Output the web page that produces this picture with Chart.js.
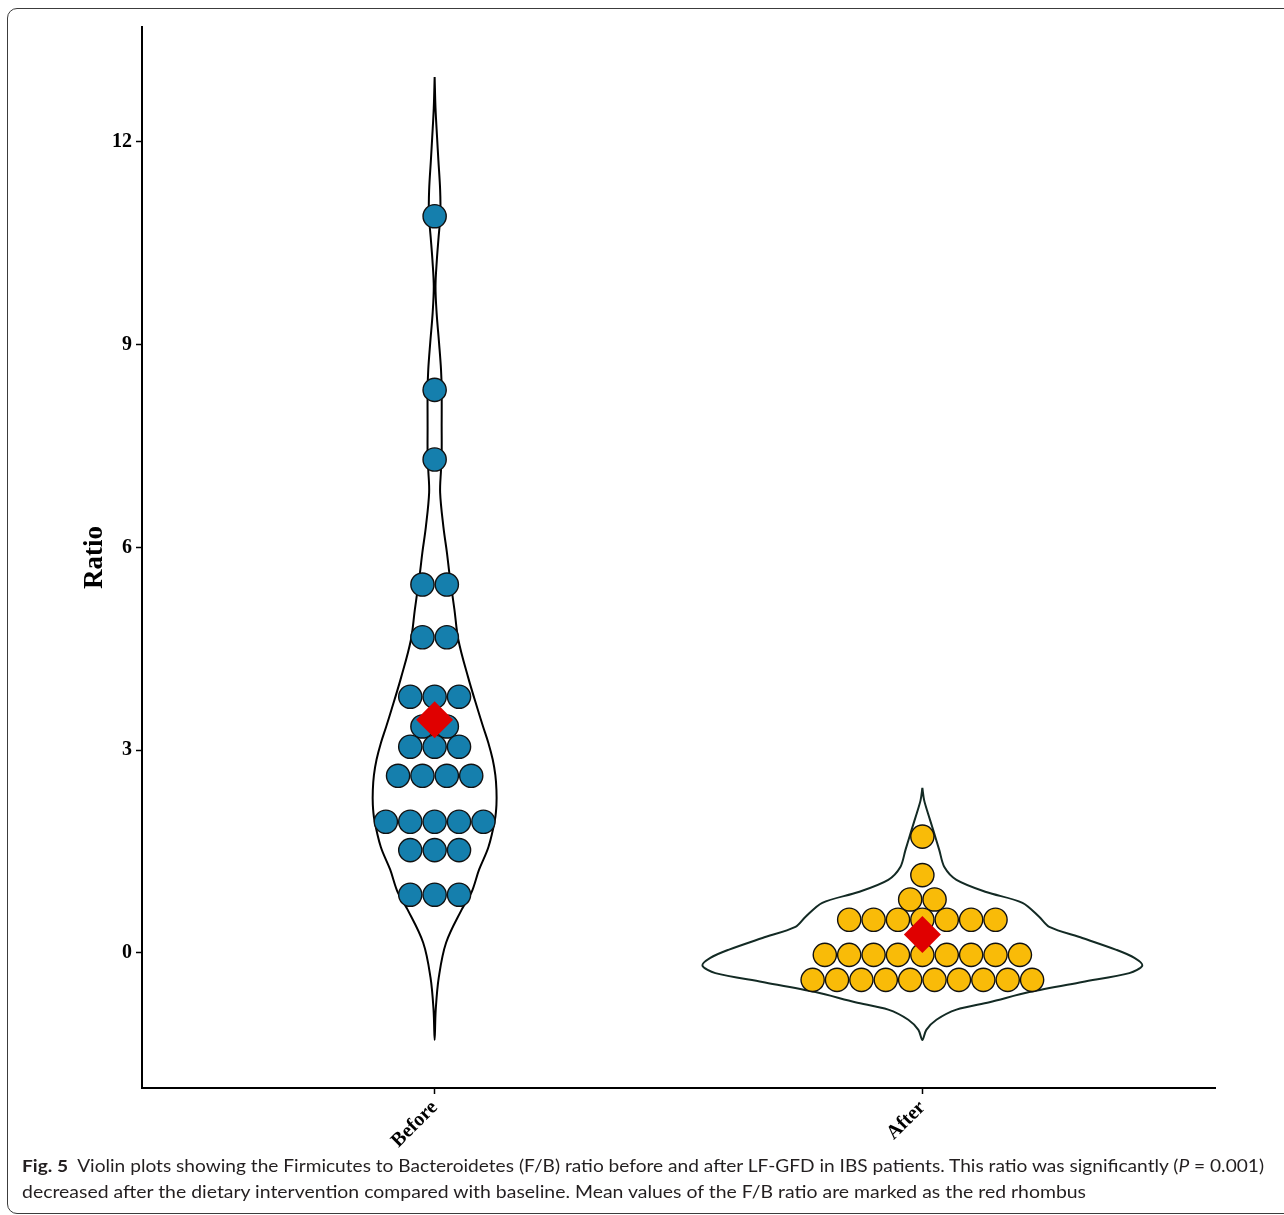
<!DOCTYPE html>
<html>
<head>
<meta charset="utf-8">
<script src="https://cdn.jsdelivr.net/npm/chart.js@4.4.1/dist/chart.umd.min.js"></script>
<style>
  html, body { margin: 0; padding: 0; background: #fff; width: 1284px; height: 1215px; overflow: hidden; }
  #frame { position: absolute; left: 7px; top: 8px; width: 1320px; height: 1206px; border: 1.5px solid #3c3c3c; border-radius: 10px; box-sizing: border-box; }
  #wrap { position: absolute; left: 0; top: 0; width: 1284px; height: 1160px; }
  .cap { position: absolute; left: 22px; font-family: Lato, "Open Sans", sans-serif; color: #231f20; white-space: nowrap; line-height: 1; font-size: 17.5px; transform-origin: 0 0; }
  .cap b { font-weight: 700; }
</style>
</head>
<body>
<div id="frame"></div>
<div id="wrap"><canvas id="c" width="1284" height="1160"></canvas></div>
<div class="cap" id="cap1"><b>Fig. 5</b>&nbsp; Violin plots showing the Firmicutes to Bacteroidetes (F/B) ratio before and after LF-GFD in IBS patients. This ratio was significantly (<i>P</i> = 0.001)</div>
<div class="cap" id="cap2">decreased after the dietary intervention compared with baseline. Mean values of the F/B ratio are marked as the red rhombus</div>
<script>
// ---- data ----
const categories = ['Before', 'After'];
const yTicks = [0, 3, 6, 9, 12];

// individual observations (dot-plot bins)
const beforeValues = [10.9, 8.33, 7.3, 5.45, 5.45, 4.67, 4.67, 3.79, 3.79, 3.79, 3.35, 3.35,
  3.05, 3.05, 3.05, 2.62, 2.62, 2.62, 2.62, 1.94, 1.94, 1.94, 1.94, 1.94, 1.52, 1.52, 1.52,
  0.86, 0.86, 0.86];
const afterValues = [1.72, 1.15, 0.79, 0.79, 0.49, 0.49, 0.49, 0.49, 0.49, 0.49, 0.49,
  -0.03, -0.03, -0.03, -0.03, -0.03, -0.03, -0.03, -0.03, -0.03,
  -0.40, -0.40, -0.40, -0.40, -0.40, -0.40, -0.40, -0.40, -0.40, -0.40];

// group means (red rhombus)
const meanValues = [3.45, 0.27];

// violin outlines: ratio level and relative density (1 = widest violin)
const beforeViolinY = [12.96, 12.5, 12.07, 11.73, 11.29, 10.92, 10.59, 10.25, 9.86, 9.47, 9.03, 8.63,
  8.33, 7.78, 7.40, 7.15, 6.81, 6.30, 5.92, 5.62, 5.08, 4.63, 4.08, 3.60, 3.35, 3.11, 2.86, 2.63, 2.41,
  2.19, 1.97, 1.57, 1.23, 0.89, 0.64, 0.15, -0.36, -0.84, -1.29];
const beforeViolinDensity = [0, 0.004, 0.011, 0.017, 0.025, 0.026, 0.018, 0.010, 0.004, 0.009, 0.020, 0.029,
  0.032, 0.032, 0.032, 0.029, 0.025, 0.040, 0.056, 0.067, 0.090, 0.108, 0.152, 0.196, 0.220, 0.244, 0.264, 0.276, 0.281,
  0.281, 0.274, 0.245, 0.202, 0.167, 0.123, 0.052, 0.019, 0.005, 0];
const afterViolinY = [2.44, 2.26, 2.07, 1.82, 1.52, 1.27, 1.08, 0.90, 0.74, 0.53, 0.385, 0.22, 0.044,
  -0.074, -0.19, -0.30, -0.43, -0.58, -0.73, -0.84, -0.99, -1.14, -1.29];
const afterViolinDensity = [0, 0.008, 0.025, 0.049, 0.077, 0.100, 0.155, 0.290, 0.455, 0.532, 0.577, 0.727, 0.882,
  0.964, 1.0, 0.941, 0.727, 0.486, 0.305, 0.155, 0.064, 0.018, 0];

// ---- styling ----
const VIOLIN_HALF = 0.451;   // half width of the widest violin, x units
const DOT_STEP = 0.05;       // horizontal spacing of stacked dots, x units
const blue = '#157fad', yellow = '#f9bb08', red = '#e00000';

function stackDots(values, center) {
  const rows = new Map();
  values.forEach(v => rows.set(v, (rows.get(v) || 0) + 1));
  const pts = [];
  rows.forEach((n, v) => {
    for (let i = 0; i < n; i++) pts.push({ x: center + (i - (n - 1) / 2) * DOT_STEP, y: v });
  });
  return pts;
}
function violinPath(ys, dens, center) {
  const left = ys.map((y, i) => ({ x: center - dens[i] * VIOLIN_HALF, y }));
  const right = ys.map((y, i) => ({ x: center + dens[i] * VIOLIN_HALF, y })).reverse();
  return left.concat(right.slice(1));
}

const serif = '"Liberation Serif", "Times New Roman", serif';

new Chart(document.getElementById('c'), {
  type: 'scatter',
  data: {
    datasets: [
      { data: [{ x: 1, y: meanValues[0] }, { x: 2, y: meanValues[1] }], pointStyle: 'rectRot',
        pointRadius: 18.5, backgroundColor: red, borderWidth: 0, pointHoverRadius: 18.5 },
      { data: stackDots(beforeValues, 1), pointRadius: 11.6, backgroundColor: blue,
        borderColor: '#111', borderWidth: 1.4, pointHoverRadius: 11.6 },
      { data: stackDots(afterValues, 2), pointRadius: 11.6, backgroundColor: yellow,
        borderColor: '#111', borderWidth: 1.4, pointHoverRadius: 11.6 },
      { data: violinPath(beforeViolinY, beforeViolinDensity, 1), showLine: true, pointRadius: 0,
        borderColor: '#000', borderWidth: 2, tension: 0.35, fill: false, backgroundColor: 'transparent' },
      { data: violinPath(afterViolinY, afterViolinDensity, 2), showLine: true, pointRadius: 0,
        borderColor: '#132a24', borderWidth: 2, tension: 0.3, fill: false, backgroundColor: 'transparent' }
    ]
  },
  options: {
    responsive: false,
    animation: false,
    devicePixelRatio: 1,
    layout: { padding: { left: 0, top: 27, right: 69, bottom: 0 } },
    plugins: { legend: { display: false }, tooltip: { enabled: false } },
    scales: {
      x: {
        type: 'linear', min: 0.4, max: 2.6,
        afterBuildTicks: s => { s.ticks = categories.map((c, i) => ({ value: i + 1 })); },
        afterFit: s => { s.height = 72; },
        grid: { drawOnChartArea: false, drawTicks: true, tickLength: 6, tickColor: '#000', tickWidth: 1.5 },
        border: { color: '#000', width: 2 },
        ticks: { autoSkip: false, minRotation: 45, maxRotation: 45, padding: 2, color: '#000',
          font: { family: serif, size: 20, weight: 'bold' },
          callback: v => categories[Math.round(v) - 1] || '' }
      },
      y: {
        type: 'linear', min: -2.0, max: 13.7,
        afterBuildTicks: s => { s.ticks = yTicks.map(v => ({ value: v })); },
        afterFit: s => { s.width = 142; },
        grid: { drawOnChartArea: false, drawTicks: true, tickLength: 6, tickColor: '#000', tickWidth: 1.5 },
        border: { color: '#000', width: 2 },
        ticks: { padding: 4, color: '#000', font: { family: serif, size: 20, weight: 'bold' } },
        title: { display: true, text: 'Ratio', color: '#000', padding: { top: 79, bottom: 0 },
          font: { family: serif, size: 27, weight: 'bold' } }
      }
    }
  }
});

// caption placement: fit each line to the width it has in the figure
function fitLine(el, targetWidth, baseline) {
  const w = el.getBoundingClientRect().width;
  el.style.transform = 'scaleX(' + (targetWidth / w) + ')';
  const fs = parseFloat(getComputedStyle(el).fontSize);
  el.style.top = (baseline - fs * 0.89) + 'px';
}
fitLine(document.getElementById('cap1'), 1242, 1173);
fitLine(document.getElementById('cap2'), 1064, 1199);
</script>
</body>
</html>
